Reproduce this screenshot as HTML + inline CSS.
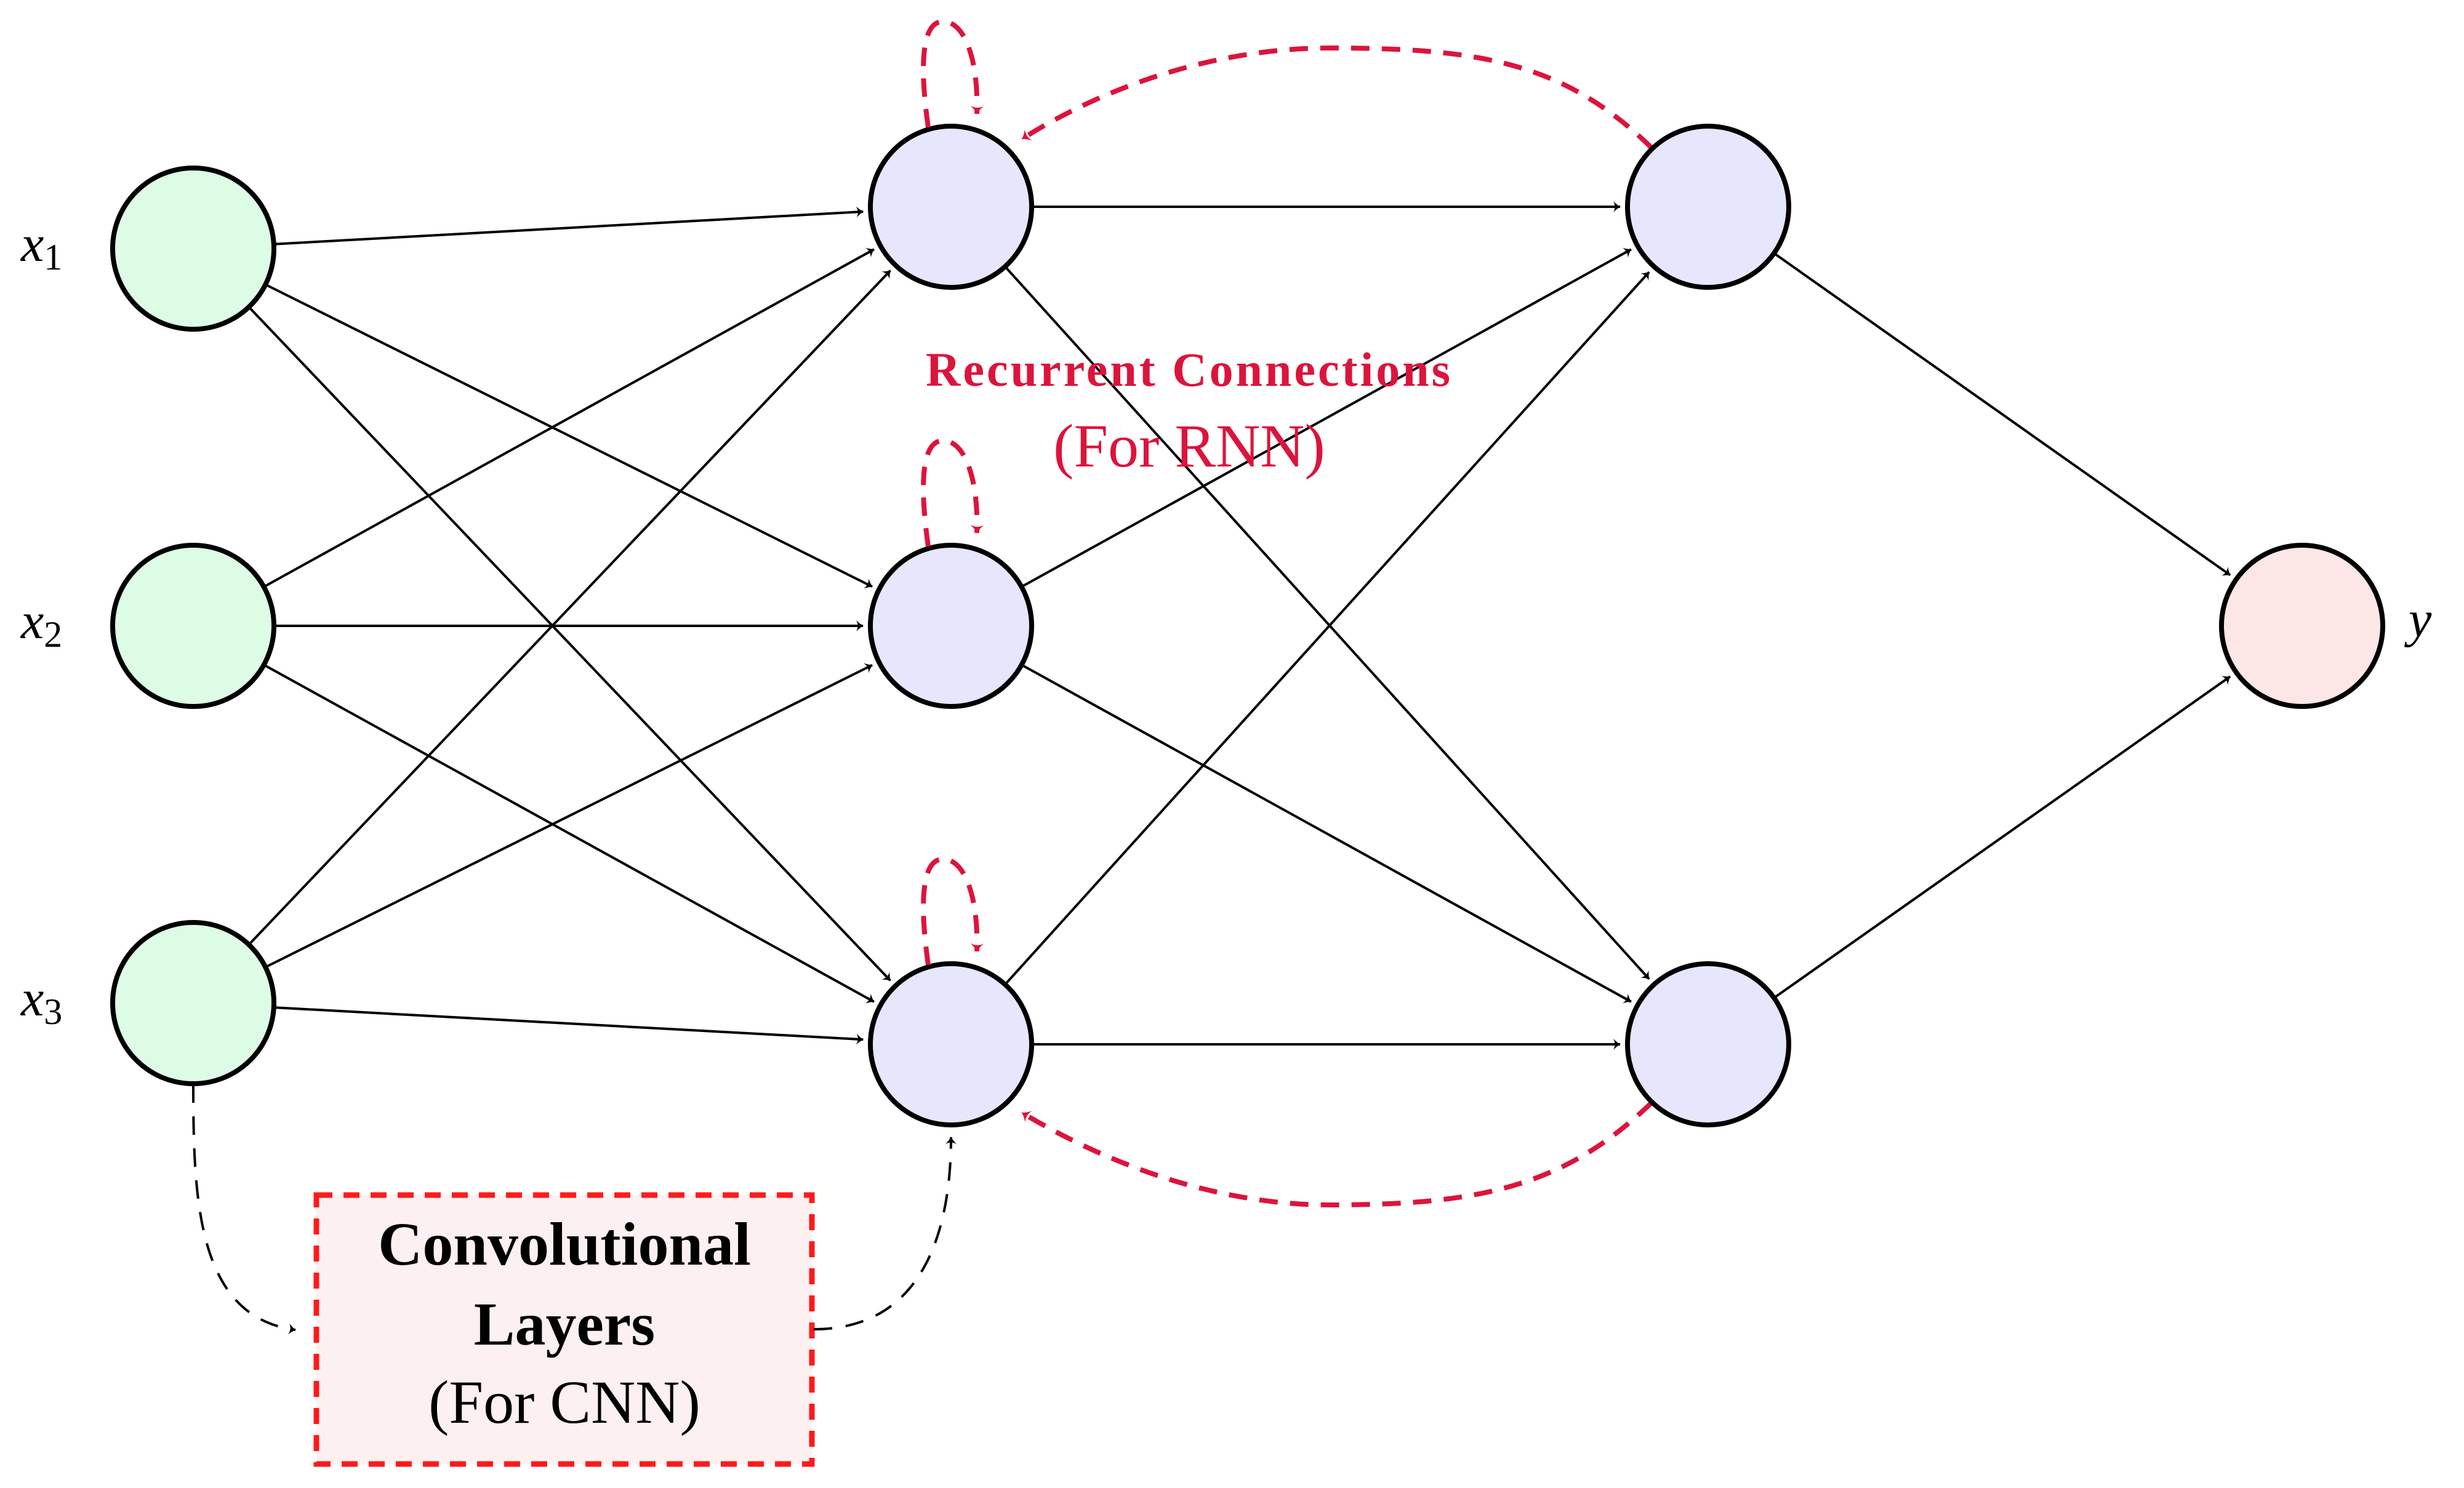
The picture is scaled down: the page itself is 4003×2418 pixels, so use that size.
<!DOCTYPE html>
<html><head><meta charset="utf-8"><style>
html,body{margin:0;padding:0;background:#fff;}
svg{display:block;}
text{font-family:"Liberation Serif",serif;}
</style></head><body>
<svg id="s" width="4003" height="2418" viewBox="0 0 4003 2418" xmlns="http://www.w3.org/2000/svg">
<defs>
<marker id="ab" viewBox="-12 -10 14 20" markerWidth="14" markerHeight="20" refX="0" refY="0" orient="auto" markerUnits="userSpaceOnUse">
<path d="M-11,-9 Q-4,-2 1,0 Q-4,2 -11,9 Q-6,0 -11,-9Z" fill="#000"/>
</marker>
<marker id="ar" viewBox="-14 -12 16 24" markerWidth="16" markerHeight="24" refX="0" refY="0" orient="auto" markerUnits="userSpaceOnUse">
<path d="M-13,-11 Q-5,-2 1,0 Q-5,2 -13,11 Q-7,0 -13,-11Z" fill="#dc143c"/>
</marker>
</defs>
<g id="edges" stroke="#000" stroke-width="4" fill="none"></g>
<!-- CNN box -->
<rect x="514" y="1942" width="805" height="437" fill="#fdf0f0" stroke="#ff1a1a" stroke-width="9" stroke-dasharray="26,18"/>
<path d="M314,1762 C314,1950 320,2140 480,2161" stroke="#000" stroke-width="4" fill="none" stroke-dasharray="30,22" marker-end="url(#ab)"/>
<path d="M1322,2160 C1500,2160 1545,2000 1545,1848" stroke="#000" stroke-width="4" fill="none" stroke-dasharray="30,22" marker-end="url(#ab)"/>
<!-- red recurrent -->
<g stroke="#dc143c" stroke-width="8" fill="none" stroke-dasharray="30,20">
<path d="M2683,240 C2540,100 2400,78 2160,78 C1960,78 1780,150 1660,226" marker-end="url(#ar)"/>
<path d="M2683,1792 C2540,1930 2400,1958 2160,1958 C1960,1958 1780,1880 1660,1808" marker-end="url(#ar)"/>
</g>
<g id="nodes" stroke="#000" stroke-width="8"></g>
<g font-size="84" font-style="italic">
<text x="34" y="424">x<tspan font-size="60" font-style="normal" dy="14">1</tspan></text>
<text x="34" y="1037">x<tspan font-size="60" font-style="normal" dy="14">2</tspan></text>
<text x="34" y="1650">x<tspan font-size="60" font-style="normal" dy="14">3</tspan></text>
<text x="3913" y="1034">y</text>
</g>
<text x="1932" y="627" font-size="78" font-weight="bold" fill="#dc143c" text-anchor="middle" letter-spacing="4">Recurrent Connections</text>
<text x="1932" y="758" font-size="100" fill="#dc143c" text-anchor="middle">(For RNN)</text>
<text x="917" y="2055" font-size="100" font-weight="bold" text-anchor="middle">Convolutional</text>
<text x="917" y="2185" font-size="100" font-weight="bold" text-anchor="middle">Layers</text>
<text x="917" y="2312" font-size="100" text-anchor="middle">(For CNN)</text>
</svg>
<script>
var NS="http://www.w3.org/2000/svg",R=131;
var I=[[314,404],[314,1017],[314,1630]],H=[[1545,336],[1545,1017],[1545,1697]],L=[[2775,336],[2775,1697]],O=[3740,1017];
var eg=document.getElementById("edges"),ng=document.getElementById("nodes");
function edge(a,b){var dx=b[0]-a[0],dy=b[1]-a[1],d=Math.hypot(dx,dy),ux=dx/d,uy=dy/d;
var l=document.createElementNS(NS,"line");
l.setAttribute("x1",a[0]+ux*R);l.setAttribute("y1",a[1]+uy*R);
l.setAttribute("x2",b[0]-ux*(R+12));l.setAttribute("y2",b[1]-uy*(R+12));
l.setAttribute("marker-end","url(#ab)");eg.appendChild(l);}
I.forEach(function(a){H.forEach(function(b){edge(a,b);});});
H.forEach(function(a){L.forEach(function(b){edge(a,b);});});
L.forEach(function(a){edge(a,O);});
function node(p,f){var c=document.createElementNS(NS,"circle");c.setAttribute("cx",p[0]);c.setAttribute("cy",p[1]);c.setAttribute("r",R);c.setAttribute("fill",f);ng.appendChild(c);}
I.forEach(function(p){node(p,"#dcfce6");});
H.forEach(function(p){node(p,"#e6e6fc");});
L.forEach(function(p){node(p,"#e6e6fc");});
node(O,"#fce6e6");
var rg=document.createElementNS(NS,"g");rg.setAttribute("stroke","#dc143c");rg.setAttribute("stroke-width","8");rg.setAttribute("fill","none");rg.setAttribute("stroke-dasharray","30,20");
H.forEach(function(p){var x=p[0],t=p[1]-R;var pa=document.createElementNS(NS,"path");
pa.setAttribute("d","M"+(x-37)+","+(t+2)+" C"+(x-50)+","+(t-90)+" "+(x-50)+","+(t-170)+" "+(x-13)+","+(t-170)+" C"+(x+25)+","+(t-170)+" "+(x+45)+","+(t-100)+" "+(x+42)+","+(t-20));
pa.setAttribute("marker-end","url(#ar)");rg.appendChild(pa);});
document.getElementById("s").appendChild(rg);
</script>
</body></html>
